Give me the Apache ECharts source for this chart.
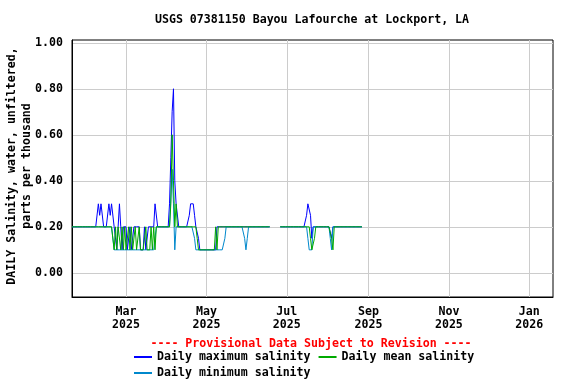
<!DOCTYPE html>
<html><head><meta charset="utf-8">
<script src="https://cdn.jsdelivr.net/npm/echarts@6/dist/echarts.min.js"></script>
<style>html,body{margin:0;padding:0;background:#fff}#c{width:576px;height:384px}</style>
</head><body><div id="c"></div>
<script>
const titleText = 'USGS 07381150 Bayou Lafourche at Lockport, LA';
const provisionalText = '---- Provisional Data Subject to Revision ----';
const yAxisTitle = ['DAILY Salinity, water, unfiltered,', 'parts per thousand'];
const seriesNames = ['Daily maximum salinity', 'Daily mean salinity', 'Daily minimum salinity'];
const startDate = [2025, 0, 19];
const endDate = [2026, 0, 19];
const xTickDates = [[2025,2,1],[2025,4,1],[2025,6,1],[2025,8,1],[2025,10,1],[2026,0,1]];
const monthNames = ['Jan','Feb','Mar','Apr','May','Jun','Jul','Aug','Sep','Oct','Nov','Dec'];
const yTicks = [0, 0.2, 0.4, 0.6, 0.8, 1.0];

// daily values starting 2025-01-19
const maxSal = [
0.2,0.2,0.2,0.2,0.2,0.2,0.2,0.2,0.2,0.2,
0.2,0.2,0.2,0.2,0.2,0.2,0.2,0.2,0.2,0.2,
0.3,0.25,0.3,0.3,0.2,0.2,0.2,0.2,0.3,0.25,
0.3,0.3,0.2,0.2,0.1,0.2,0.3,0.2,0.1,0.2,
0.2,0.2,0.1,0.1,0.2,0.1,0.1,0.2,0.2,0.2,
0.2,0.2,0.1,0.1,0.1,0.2,0.1,0.1,0.2,0.2,
0.2,0.2,0.2,0.3,0.3,0.2,0.2,0.2,0.2,0.2,
0.2,0.2,0.2,0.2,0.3,0.5,0.7,0.8,0.4,0.3,
0.3,0.2,0.2,0.2,0.2,0.2,0.2,0.2,0.2,0.25,
0.3,0.3,0.3,0.25,0.2,0.2,0.15,0.1,0.1,0.1,
0.1,0.1,0.1,0.1,0.1,0.1,0.1,0.1,0.1,0.1,
0.2,0.2,0.2,0.2,0.2,0.2,0.2,0.2,0.2,0.2,
0.2,0.2,0.2,0.2,0.2,0.2,0.2,0.2,0.2,0.2,
0.2,0.2,0.2,0.2,0.2,0.2,0.2,0.2,0.2,0.2,
0.2,0.2,0.2,0.2,0.2,0.2,0.2,0.2,0.2,0.2,
0.2,null,null,null,null,null,null,null,0.2,0.2,
0.2,0.2,0.2,0.2,0.2,0.2,0.2,0.2,0.2,0.2,
0.2,0.2,0.2,0.2,0.2,0.2,0.2,0.2,0.25,0.3,
0.3,0.25,0.15,0.2,0.2,0.2,0.2,0.2,0.2,0.2,
0.2,0.2,0.2,0.2,0.2,0.2,0.2,0.15,0.2,0.2,
0.2,0.2,0.2,0.2,0.2,0.2,0.2,0.2,0.2,0.2,
0.2,0.2,0.2,0.2,0.2,0.2,0.2,0.2,0.2,0.2,
0.2
];
const meanSal = [
0.2,0.2,0.2,0.2,0.2,0.2,0.2,0.2,0.2,0.2,
0.2,0.2,0.2,0.2,0.2,0.2,0.2,0.2,0.2,0.2,
0.2,0.2,0.2,0.2,0.2,0.2,0.2,0.2,0.2,0.2,
0.2,0.2,0.1,0.2,0.1,0.2,0.2,0.1,0.2,0.1,
0.2,0.1,0.1,0.2,0.1,0.2,0.1,0.1,0.2,0.1,
0.1,0.2,0.1,0.1,0.1,0.1,0.2,0.1,0.1,0.1,
0.2,0.1,0.2,0.1,0.2,0.2,0.2,0.2,0.2,0.2,
0.2,0.2,0.2,0.2,0.2,0.3,0.6,0.4,0.2,0.3,
0.2,0.2,0.2,0.2,0.2,0.2,0.2,0.2,0.2,0.2,
0.2,0.2,0.2,0.2,0.2,0.15,0.1,0.1,0.1,0.1,
0.1,0.1,0.1,0.1,0.1,0.1,0.1,0.1,0.1,0.2,
0.1,0.2,0.2,0.2,0.2,0.2,0.2,0.2,0.2,0.2,
0.2,0.2,0.2,0.2,0.2,0.2,0.2,0.2,0.2,0.2,
0.2,0.2,0.2,0.2,0.2,0.2,0.2,0.2,0.2,0.2,
0.2,0.2,0.2,0.2,0.2,0.2,0.2,0.2,0.2,0.2,
0.2,null,null,null,null,null,null,null,0.2,0.2,
0.2,0.2,0.2,0.2,0.2,0.2,0.2,0.2,0.2,0.2,
0.2,0.2,0.2,0.2,0.2,0.2,0.2,0.2,0.2,0.2,
0.2,0.15,0.1,0.1,0.15,0.2,0.2,0.2,0.2,0.2,
0.2,0.2,0.2,0.2,0.2,0.2,0.2,0.15,0.1,0.2,
0.2,0.2,0.2,0.2,0.2,0.2,0.2,0.2,0.2,0.2,
0.2,0.2,0.2,0.2,0.2,0.2,0.2,0.2,0.2,0.2,
0.2
];
const minSal = [
0.2,0.2,0.2,0.2,0.2,0.2,0.2,0.2,0.2,0.2,
0.2,0.2,0.2,0.2,0.2,0.2,0.2,0.2,0.2,0.2,
0.2,0.2,0.2,0.2,0.2,0.2,0.2,0.2,0.2,0.2,
0.2,0.2,0.1,0.1,0.1,0.1,0.1,0.1,0.1,0.1,
0.1,0.1,0.1,0.1,0.1,0.1,0.1,0.1,0.1,0.1,
0.1,0.1,0.1,0.1,0.1,0.1,0.1,0.1,0.1,0.1,
0.1,0.1,0.1,0.1,0.2,0.2,0.2,0.2,0.2,0.2,
0.2,0.2,0.2,0.2,0.2,0.2,0.45,0.3,0.1,0.2,
0.2,0.2,0.2,0.2,0.2,0.2,0.2,0.2,0.2,0.2,
0.2,0.2,0.2,0.15,0.1,0.1,0.1,0.1,0.1,0.1,
0.1,0.1,0.1,0.1,0.1,0.1,0.1,0.1,0.1,0.1,
0.1,0.1,0.1,0.1,0.1,0.1,0.15,0.2,0.2,0.2,
0.2,0.2,0.2,0.2,0.2,0.2,0.2,0.2,0.2,0.2,
0.2,0.15,0.1,0.15,0.2,0.2,0.2,0.2,0.2,0.2,
0.2,0.2,0.2,0.2,0.2,0.2,0.2,0.2,0.2,0.2,
0.2,null,null,null,null,null,null,null,0.2,0.2,
0.2,0.2,0.2,0.2,0.2,0.2,0.2,0.2,0.2,0.2,
0.2,0.2,0.2,0.2,0.2,0.2,0.2,0.2,0.2,0.15,
0.1,0.1,0.1,0.2,0.2,0.2,0.2,0.2,0.2,0.2,
0.2,0.2,0.2,0.2,0.2,0.2,0.15,0.1,0.2,0.2,
0.2,0.2,0.2,0.2,0.2,0.2,0.2,0.2,0.2,0.2,
0.2,0.2,0.2,0.2,0.2,0.2,0.2,0.2,0.2,0.2,
0.2
];

const FONT = 'DejaVu Sans Mono';
const FS = 11.6;
function dayTime(i) { return new Date(startDate[0], startDate[1], startDate[2] + i).getTime(); }
function pairs(arr) { return arr.map((v, i) => [dayTime(i), v]); }
const xTicks = xTickDates.map(d => new Date(d[0], d[1], d[2]).getTime());

const chart = echarts.init(document.getElementById('c'), null, {renderer: 'canvas'});
const txt = {fontFamily: FONT, fontWeight: 'bold', fontSize: FS, color: '#000'};
chart.setOption({
  animation: false,
  backgroundColor: '#fff',
  title: [
    {text: titleText, left: 312, top: 14, padding: 0, textAlign: 'center', textStyle: Object.assign({}, txt)},
    {text: provisionalText, left: 311, top: 338, padding: 0, textAlign: 'center', textStyle: Object.assign({}, txt, {color: '#ff0000'})}
  ],
  legend: [
    {data: [seriesNames[0], seriesNames[1]], left: 134, top: 351, padding: 0, itemWidth: 18, itemHeight: 2, itemGap: 8, icon: 'rect', textStyle: Object.assign({}, txt), selectedMode: false},
    {data: [seriesNames[2]], left: 134, top: 367, padding: 0, itemWidth: 18, itemHeight: 2, icon: 'rect', textStyle: Object.assign({}, txt), selectedMode: false}
  ],
  graphic: [
    {type: 'text', x: 12, y: 166, rotation: Math.PI / 2, style: {text: yAxisTitle[0], align: 'center', verticalAlign: 'middle', font: 'bold ' + FS + 'px "' + FONT + '"', fill: '#000'}},
    {type: 'text', x: 27, y: 166, rotation: Math.PI / 2, style: {text: yAxisTitle[1], align: 'center', verticalAlign: 'middle', font: 'bold ' + FS + 'px "' + FONT + '"', fill: '#000'}}
  ],
  grid: {left: 72, right: 23, top: 40, bottom: 87, show: true, borderColor: '#000', borderWidth: 1, containLabel: false},
  xAxis: {
    type: 'value',
    min: new Date(startDate[0], startDate[1], startDate[2]).getTime(),
    max: new Date(endDate[0], endDate[1], endDate[2]).getTime(),
    axisLine: {show: true, onZero: false, lineStyle: {color: '#000', width: 1}},
    axisTick: {show: false, customValues: xTicks},
    axisLabel: Object.assign({}, txt, {customValues: xTicks, margin: 8, lineHeight: 13,
      formatter: function (v) { const d = new Date(v); return monthNames[d.getMonth()] + '\n' + d.getFullYear(); }}),
    splitLine: {show: true, lineStyle: {color: '#cccccc', width: 1}}
  },
  yAxis: {
    type: 'value',
    min: -0.105, max: 1.012,
    axisLine: {show: true, onZero: false, lineStyle: {color: '#000', width: 1}},
    axisTick: {show: false, customValues: yTicks},
    axisLabel: Object.assign({}, txt, {customValues: yTicks, margin: 9, formatter: v => v.toFixed(2)}),
    splitLine: {show: true, lineStyle: {color: '#cccccc', width: 1}}
  },
  series: [
    {name: seriesNames[0], type: 'line', data: pairs(maxSal), showSymbol: false, connectNulls: false, color: '#0000ff', lineStyle: {width: 1, color: '#0000ff'}, z: 2},
    {name: seriesNames[2], type: 'line', data: pairs(minSal), showSymbol: false, connectNulls: false, color: '#0088cc', lineStyle: {width: 1, color: '#0088cc'}, z: 3},
    {name: seriesNames[1], type: 'line', data: pairs(meanSal), showSymbol: false, connectNulls: false, color: '#00aa00', lineStyle: {width: 1, color: '#00aa00'}, z: 4}
  ]
});
</script></body></html>
